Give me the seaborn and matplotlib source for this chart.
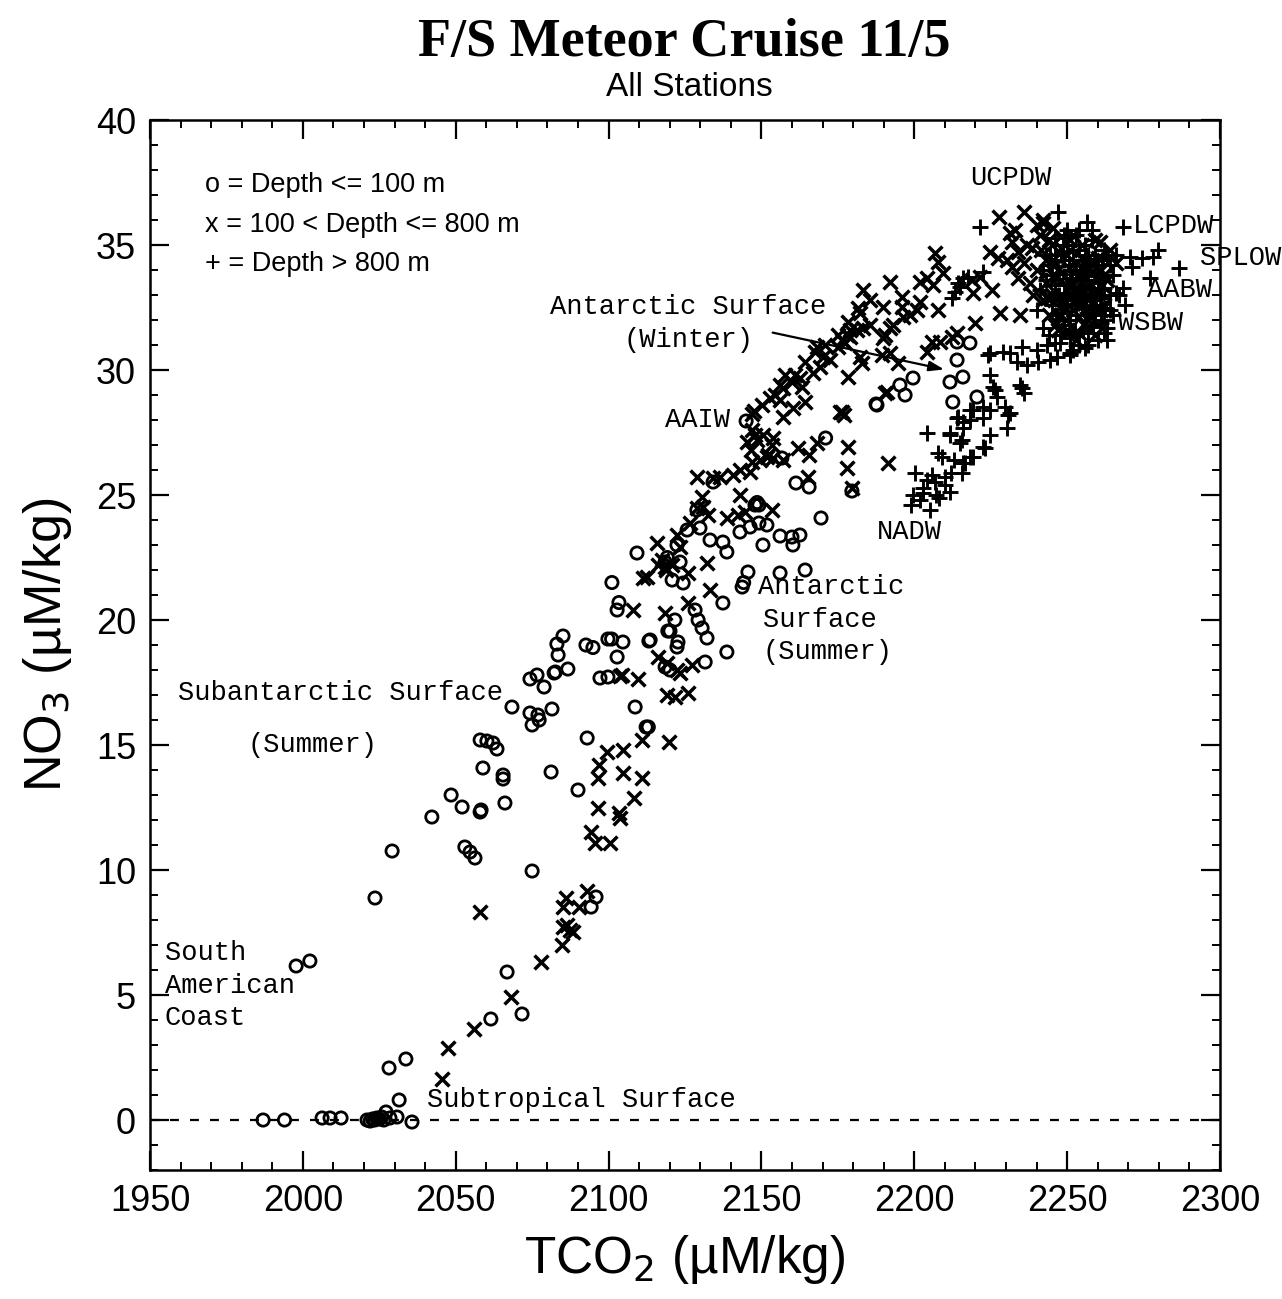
import matplotlib
matplotlib.use("Agg")
import matplotlib.pyplot as plt
from matplotlib.ticker import MultipleLocator
import seaborn as sns
import pandas as pd

# Depth <= 100 m
shallow_tco2 = [1987, 1994, 2006.3, 2008.9, 2012.5, 2021.0, 2022.0, 2022.8, 2023.5, 2024.2, 2025.0, 2025.8,
                2026.5, 2027.2, 2028.5, 2030.8, 2035.7, 2031.5, 2028.2, 2033.7, 1997.8, 2002.3, 2023.6, 2029.2,
                2042.2, 2048.5, 2052.1, 2058.0, 2058.3, 2066.1, 2053.0, 2054.7, 2056.3, 2075.0, 2066.8, 2071.7,
                2061.5, 2095.9, 2094.3, 2058.0, 2060.2, 2062.2, 2063.5, 2058.9, 2065.5, 2065.5, 2081.2, 2090.0,
                2093.0, 2068.4, 2074.3, 2076.9, 2075.0, 2077.3, 2081.5, 2076.6, 2074.3, 2078.9, 2082.2, 2082.6,
                2086.7, 2085.1, 2083.1, 2083.5, 2092.6, 2094.9, 2099.8, 2101.0, 2104.7, 2102.8, 2113.2, 2119.4,
                2097.2, 2099.8, 2108.7, 2112.3, 2113.0, 2101.1, 2103.4, 2102.8, 2109.3, 2120.8, 2124.4, 2123.4,
                2118.5, 2119.2, 2121.7, 2128.3, 2129.3, 2130.6, 2132.2, 2120.1, 2122.7, 2122.4, 2113.6, 2131.6,
                2138.7, 2118.5, 2120.1, 2137.4, 2143.7, 2144.2, 2145.6, 2156.1, 2164.3, 2122.4, 2125.7, 2129.9,
                2133.2, 2137.4, 2138.7, 2143.0, 2146.3, 2149.2, 2151.8, 2150.5, 2156.1, 2160.0, 2162.6, 2160.3,
                2169.5, 2147.9, 2148.6, 2149.2, 2128.9, 2134.2, 2145.0, 2156.7, 2161.3, 2165.6, 2179.6, 2171.0,
                2187.5, 2195.3, 2197.0, 2199.6, 2187.8, 2214.0, 2218.2, 2214.0, 2211.7, 2212.6, 2215.9, 2220.5]
shallow_no3 = [0.0, 0.0, 0.08, 0.08, 0.08, 0.0, -0.04, 0.04, 0.0, 0.08, 0.04, 0.12,
               0.0, 0.32, 0.08, 0.12, -0.08, 0.8, 2.08, 2.44, 6.16, 6.36, 8.88, 10.76,
               12.12, 13.0, 12.52, 12.32, 12.4, 12.68, 10.92, 10.72, 10.48, 9.96, 5.92, 4.24,
               4.04, 8.92, 8.52, 15.2, 15.16, 15.08, 14.84, 14.08, 13.64, 13.8, 13.92, 13.2,
               15.28, 16.52, 16.28, 16.2, 15.8, 16.0, 16.44, 17.8, 17.64, 17.32, 17.88, 17.92,
               18.04, 19.36, 19.04, 18.6, 19.0, 18.9, 19.24, 19.24, 19.12, 18.52, 19.16, 19.56,
               17.68, 17.72, 16.52, 15.72, 15.72, 21.5, 20.7, 20.4, 22.68, 21.6, 21.48, 22.32,
               22.32, 22.5, 20.0, 20.4, 20.0, 19.68, 19.28, 19.56, 19.12, 18.92, 19.2, 18.32,
               18.72, 18.12, 18.0, 20.68, 21.32, 21.5, 21.92, 21.88, 22.0, 23.0, 23.6, 23.68,
               23.2, 23.12, 22.72, 23.52, 23.72, 23.88, 23.8, 23.0, 23.36, 23.32, 23.4, 23.0,
               24.08, 24.6, 24.7, 24.6, 24.4, 25.52, 27.96, 26.48, 25.48, 25.32, 25.16, 27.28,
               28.64, 29.4, 29.0, 29.68, 28.6, 31.12, 31.08, 30.4, 29.52, 28.72, 29.72, 28.92]

# 100 m < Depth <= 800 m
mid_tco2 = [2045.5, 2047.5, 2056.0, 2068.1, 2077.9, 2058.0, 2084.8, 2085.1, 2087.4, 2088.4, 2086.5, 2086.1,
            2085.1, 2090.3, 2093.0, 2094.3, 2095.6, 2100.5, 2096.5, 2103.4, 2103.7, 2108.3, 2099.5, 2104.7,
            2096.9, 2096.5, 2104.7, 2110.9, 2111.0, 2119.8, 2103.7, 2109.6, 2104.4, 2119.1, 2121.7, 2126.0,
            2116.2, 2119.1, 2122.4, 2123.4, 2127.3, 2108.0, 2118.5, 2126.0, 2111.3, 2118.5, 2112.6,
            2116.2, 2120.8, 2126.0, 2132.2, 2133.2, 2115.9, 2122.4, 2123.4, 2126.6, 2117.5, 2118.8, 2130.6,
            2128.9, 2130.9, 2132.5, 2143.0, 2138.7, 2142.3, 2144.6, 2153.5, 2128.9, 2134.2, 2136.5, 2140.7,
            2143.0, 2146.3, 2146.9, 2149.5, 2151.8, 2147.6, 2147.0, 2148.6, 2147.8, 2145.3, 2146.6, 2150.5,
            2153.8, 2153.5, 2152.2, 2153.8, 2157.0, 2162.0, 2165.6, 2168.2, 2178.3, 2178.0, 2191.4, 2165.2,
            2179.6, 2176.4, 2175.7, 2177.0, 2190.4, 2191.1, 2146.9, 2150.2, 2152.8, 2157.1, 2161.0, 2164.3,
            2167.5, 2170.8, 2175.1, 2178.3, 2182.3, 2185.5, 2162.6, 2157.7, 2156.1, 2160.0, 2163.3, 2164.3,
            2160.3, 2157.1, 2156.1, 2154.5, 2168.2, 2170.1, 2172.4, 2169.2, 2166.9, 2175.1, 2177.3, 2179.0,
            2182.9, 2182.3, 2189.5, 2192.1, 2194.7, 2204.2, 2205.8, 2208.4, 2214.0, 2212.3, 2178.3, 2185.5,
            2183.2, 2181.3, 2179.0, 2178.0, 2176.4, 2193.1, 2192.1, 2196.3, 2198.6, 2190.4, 2189.8, 2181.6,
            2189.8, 2196.0, 2201.9, 2200.9, 2207.8, 2183.2, 2192.1, 2196.0, 2201.9, 2204.2, 2206.8, 2207.8,
            2209.4, 2206.1, 2218.9, 2219.2, 2225.4, 2221.5, 2228.0, 2234.6, 2219.9, 2227.7, 2235.9, 2242.1,
            2245.4, 2231.3, 2231.9, 2224.8, 2227.4, 2230.3, 2232.0, 2233.9, 2238.5, 2260.8, 2240, 2243,
            2246, 2248, 2250, 2252, 2254, 2256, 2258, 2260, 2262, 2244, 2247, 2251, 2255, 2257, 2259, 2261,
            2263, 2249, 2253, 2245, 2241, 2239, 2264, 2266, 2252, 2256, 2248, 2242,
            2243, 2245, 2247, 2249, 2251, 2253, 2255, 2257, 2259, 2261, 2250, 2254, 2258, 2244, 2246, 2252,
            2256, 2260, 2262, 2248, 2237, 2236, 2234, 2238, 2240, 2242, 2233,
            2244.5, 2246.5, 2248.5, 2250.5, 2252.5, 2254.5, 2256.5, 2258.5, 2241.5, 2243.5, 2249.5, 2253.5,
            2257.5, 2261.5, 2245.5, 2251.5, 2255.5, 2259.5]
mid_no3 = [1.64, 2.88, 3.64, 4.92, 6.32, 8.32, 7.0, 7.72, 7.6, 7.52, 7.8, 8.88,
           8.52, 8.52, 9.16, 11.52, 11.08, 11.08, 12.48, 12.28, 12.08, 12.88, 14.72, 14.8,
           14.2, 13.68, 13.88, 13.68, 15.2, 15.12, 17.76, 17.64, 17.8, 17.0, 16.92, 17.08,
           18.52, 18.28, 18.0, 17.88, 18.2, 20.4, 20.3, 20.68, 21.68, 22.12, 21.72,
           22.2, 22.2, 21.88, 22.28, 21.2, 23.08, 23.4, 22.92, 23.88, 22.4, 22.0, 24.92,
           24.48, 24.52, 24.2, 25.0, 24.08, 24.2, 24.32, 24.4, 25.72, 25.68, 25.72, 25.8,
           26.0, 25.92, 26.32, 26.4, 26.52, 28.36, 27.6, 27.2, 27.4, 27.12, 26.8, 27.4,
           27.28, 27.0, 26.6, 26.48, 26.4, 26.88, 26.6, 27.08, 26.92, 26.08, 26.28, 25.72,
           25.3, 28.32, 28.32, 28.2, 29.08, 29.12, 28.24, 28.6, 28.88, 29.28, 29.8, 30.32,
           30.72, 31.0, 31.4, 31.92, 32.28, 32.8, 29.68, 29.8, 29.4, 29.52, 29.32, 28.72,
           28.48, 28.12, 28.8, 29.0, 30.92, 30.52, 30.4, 30.12, 29.88, 30.92, 31.08, 31.32,
           30.28, 30.52, 30.6, 30.68, 30.28, 30.72, 31.12, 31.12, 31.48, 31.32, 29.72, 31.8,
           31.68, 31.6, 31.6, 31.4, 31.2, 31.8, 31.68, 32.12, 32.2, 31.4, 31.28, 32.48,
           32.52, 32.52, 32.72, 32.4, 32.4, 33.2, 33.52, 32.92, 33.52, 33.68, 34.68, 34.32,
           33.88, 33.4, 33.6, 33.08, 33.2, 33.72, 32.28, 32.2, 31.88, 36.12, 36.32, 35.88,
           35.68, 35.48, 35.12, 34.72, 34.48, 34.4, 34.12, 34.72, 34.88, 35.12, 34.0, 33.5,
           34.2, 33.0, 34.6, 32.4, 33.8, 31.9, 34.4, 33.1, 32.6, 32.2, 31.6, 35.2, 35.0, 32.9, 31.4, 34.0,
           33.6, 32.8, 31.2, 35.0, 35.4, 33.0, 34.8, 34.3, 33.4, 34.0, 34.9, 32.8,
           34.4, 33.0, 34.0, 32.4, 34.8, 33.1, 34.5, 32.0, 35.2, 32.4, 31.6, 31.5, 33.4, 35.2, 31.8, 35.4,
           32.7, 34.5, 33.8, 33.6, 35.0, 34.3, 33.7, 33.5, 35.8, 36.0, 35.6,
           32.9, 33.7, 32.6, 34.1, 33.3, 34.1, 33.0, 34.2, 34.8, 32.9, 32.0, 32.8,
           33.9, 33.4, 34.4, 33.0, 31.8, 32.5]

# Depth > 800 m
deep_tco2 = [2221.5, 2247.0, 2256.5, 2268.3, 2212.3, 2215.0, 2217.6, 2222.5, 2215.9, 2214.3, 2213.3,
             2270.6, 2274.5, 2278.1, 2279.7, 2286.6, 2277.1, 2268.3, 2271.2, 2267.0, 2269.0,
             2247.7, 2251.0, 2255.2, 2258.5, 2224.8, 2229.0, 2231.3, 2233.6, 2236.9, 2240.5, 2244.4, 2246.7,
             2235.2, 2240.2, 2243.4, 2251.0, 2224.1, 2224.8, 2226.4, 2224.8, 2218.2, 2214.3, 2215.9, 2204.2,
             2211.7, 2215.6, 2223.1, 2218.2, 2215.9, 2207.8, 2209.1, 2200.2, 2205.8, 2206.8, 2210.1, 2204.2,
             2199.6, 2211.7, 2202.9, 2225.8, 2227.1, 2229.7, 2222.5, 2219.2, 2218.2, 2213.9, 2215.9,
             2211.7, 2215.0, 2224.8, 2230.3, 2222.5, 2219.2, 2216.6, 2215.6, 2235.2, 2234.6, 2235.8, 2230.7,
             2231.2, 2222.5, 2199, 2202, 2205, 2208, 2210, 2212, 2213, 2203, 2207,
             2241, 2243, 2245, 2247, 2249, 2250, 2251, 2253, 2254, 2255, 2256, 2257, 2258, 2259, 2260, 2261,
             2262, 2263, 2264, 2265, 2246, 2248, 2252, 2254, 2256, 2260, 2244, 2242, 2250, 2253, 2257, 2259,
             2261, 2263, 2266, 2265, 2245, 2249, 2252, 2255, 2258, 2262, 2246, 2251, 2256,
             2244, 2246, 2248, 2250, 2252, 2254, 2256, 2258, 2260, 2262, 2264, 2247, 2249, 2251, 2253, 2255,
             2257, 2259, 2261, 2263, 2245, 2243, 2250, 2254, 2258, 2248, 2252, 2257, 2262, 2264, 2266, 2240,
             2242, 2255, 2259, 2251, 2253, 2246, 2249, 2256,
             2247.5, 2249.5, 2251.5, 2253.5, 2255.5, 2257.5, 2259.5, 2261.5, 2250.5, 2254.5, 2258.5, 2252.5,
             2256.5, 2248.5, 2260.5, 2262.5, 2244.5, 2246.5]
deep_no3 = [35.72, 36.32, 35.92, 35.72, 32.88, 33.32, 33.72, 33.92, 33.68, 33.48, 33.12,
            34.52, 34.48, 34.52, 34.8, 34.08, 33.68, 33.28, 34.12, 33.0, 32.6,
            31.08, 30.68, 31.6, 31.72, 30.68, 30.72, 30.68, 30.32, 30.2, 30.32, 30.4, 30.52,
            30.92, 30.8, 31.0, 30.6, 30.6, 29.8, 29.2, 28.4, 28.4, 28.12, 27.92, 27.48,
            27.4, 27.2, 26.88, 26.52, 26.28, 26.68, 26.52, 25.88, 25.8, 25.52, 25.72, 25.6,
            25.0, 25.12, 25.08, 29.32, 28.92, 28.52, 28.52, 28.4, 28.0, 28.08, 27.68,
            27.48, 27.08, 27.4, 27.68, 26.92, 26.52, 26.28, 25.88, 29.28, 29.4, 29.1, 28.2,
            28.3, 28.08, 24.6, 24.8, 24.4, 24.9, 25.4, 25.9, 26.4, 25.3, 25.0,
            33.2, 34.6, 32.6, 33.9, 31.8, 33.4, 34.0, 32.6, 34.8, 33.0, 32.2, 33.6, 35.2, 32.8, 34.2, 31.9,
            33.3, 34.5, 32.4, 33.8, 35.3, 32.3, 31.5, 31.0, 30.9, 31.2, 31.4, 31.7, 35.6, 35.4, 34.6, 33.9,
            32.9, 31.7, 33.1, 32.2, 33.8, 34.4, 33.0, 34.2, 33.2, 34.8, 31.1, 32.0, 33.4,
            34.2, 33.4, 34.6, 32.8, 34.4, 33.2, 35.0, 32.4, 33.5, 32.0, 33.0, 32.0, 33.1, 31.3, 34.0, 32.5,
            31.5, 34.6, 33.0, 31.2, 32.9, 33.6, 35.0, 35.6, 35.6, 31.4, 30.8, 31.0, 31.5, 34.2, 34.6, 32.4,
            34.0, 33.6, 32.2, 33.7, 32.2, 34.6, 35.4, 34.4,
            33.0, 32.6, 33.6, 32.7, 34.0, 33.3, 32.6, 34.4, 34.2, 33.9, 31.8, 31.6,
            32.3, 35.0, 33.6, 32.5, 34.6, 32.2]

x_ticks = [1950, 2000, 2050, 2100, 2150, 2200, 2250, 2300]
y_ticks = [0, 5, 10, 15, 20, 25, 30, 35, 40]

shallow = pd.DataFrame({"tco2": shallow_tco2, "no3": shallow_no3})
mid = pd.DataFrame({"tco2": mid_tco2, "no3": mid_no3})
deep = pd.DataFrame({"tco2": deep_tco2, "no3": deep_no3})

sns.set_style("ticks")
plt.rcParams["font.family"] = ["Liberation Sans", "DejaVu Sans"]
plt.rcParams["text.color"] = "black"
plt.rcParams["axes.labelcolor"] = "black"
plt.rcParams["xtick.color"] = "black"
plt.rcParams["ytick.color"] = "black"

fig = plt.figure(figsize=(12.82, 12.99), dpi=100)
ax = fig.add_axes([0.117, 0.0993, 0.8346, 0.8083])

ax.axhline(0, color="black", lw=1.6, ls=(0, (4, 5)), zorder=1)

sns.scatterplot(data=shallow, x="tco2", y="no3", ax=ax, marker="o", s=78,
                color="black", linewidth=2.0, legend=False, zorder=3)
ax.collections[-1].set_facecolor("none")
ax.collections[-1].set_edgecolor("black")
sns.scatterplot(data=mid, x="tco2", y="no3", ax=ax, marker="x", s=100,
                color="black", linewidth=2.5, legend=False, zorder=3)
sns.scatterplot(data=deep, x="tco2", y="no3", ax=ax, marker="+", s=130,
                color="black", linewidth=2.1, legend=False, zorder=3)

ax.set_xlim(1950, 2300)
ax.set_ylim(-2, 40)
ax.set_xticks(x_ticks)
ax.set_yticks(y_ticks)
ax.xaxis.set_minor_locator(MultipleLocator(10))
ax.yaxis.set_minor_locator(MultipleLocator(1))
ax.tick_params(which="both", direction="in", top=True, right=True, color="black")
ax.tick_params(which="major", length=14, width=1.6, labelsize=26, pad=10)
ax.tick_params(which="minor", length=6, width=1.4)
for sp in ax.spines.values():
    sp.set_linewidth(1.8)
    sp.set_color("black")

ax.set_xlabel("TCO$_2$ (µM/kg)", fontsize=37, labelpad=10)
ax.set_ylabel("NO$_3$ (µM/kg)", fontsize=37.5, labelpad=16)

fig.text(0.534, 0.967, "F/S Meteor Cruise 11/5", ha="center", va="center",
         fontsize=39, fontweight="bold", family="Liberation Serif")
fig.text(0.538, 0.933, "All Stations", ha="center", va="center", fontsize=24)

# depth key
key = ["o = Depth <= 100 m", "x = 100 < Depth <= 800 m", "+ = Depth > 800 m"]
for i, t in enumerate(key):
    ax.text(1968, 37.4 - 1.58 * i, t, fontsize=19.5, va="center", ha="left")

mono = dict(family="Liberation Mono", fontsize=19.5, color="black")
ax.text(2218.2, 37.68, "UCPDW", va="center", ha="left", **mono)
ax.text(2271.6, 35.76, "LCPDW", va="center", ha="left", **mono)
ax.text(2293.5, 34.48, "SPLOW", va="center", ha="left", clip_on=False, **mono)
ax.text(2276.3, 33.2, "AABW", va="center", ha="left", **mono)
ax.text(2266.7, 31.88, "WSBW", va="center", ha="left", **mono)
ax.text(2126.0, 32.52, "Antarctic Surface", va="center", ha="center", **mono)
ax.text(2126.0, 31.2, "(Winter)", va="center", ha="center", **mono)
ax.text(2118.5, 28.0, "AAIW", va="center", ha="left", **mono)
ax.text(2187.8, 23.52, "NADW", va="center", ha="left", **mono)
ax.text(2148.8, 21.32, "Antarctic", va="center", ha="left", **mono)
ax.text(2150.6, 20.0, "Surface", va="center", ha="left", **mono)
ax.text(2150.3, 18.72, "(Summer)", va="center", ha="left", **mono)
ax.text(1959.2, 17.08, "Subantarctic Surface", va="center", ha="left", **mono)
ax.text(1982.0, 15.0, "(Summer)", va="center", ha="left", **mono)
ax.text(1954.9, 6.68, "South", va="center", ha="left", **mono)
ax.text(1954.9, 5.36, "American", va="center", ha="left", **mono)
ax.text(1954.9, 4.08, "Coast", va="center", ha="left", **mono)
ax.text(2040.6, 0.8, "Subtropical Surface", va="center", ha="left", **mono)

ax.annotate("", xy=(2210.7, 30.0), xytext=(2152.8, 31.52),
            arrowprops=dict(arrowstyle="-|>,head_length=0.9,head_width=0.3",
                            color="black", lw=1.6))

fig.savefig("out.png", dpi=100, facecolor="white")
